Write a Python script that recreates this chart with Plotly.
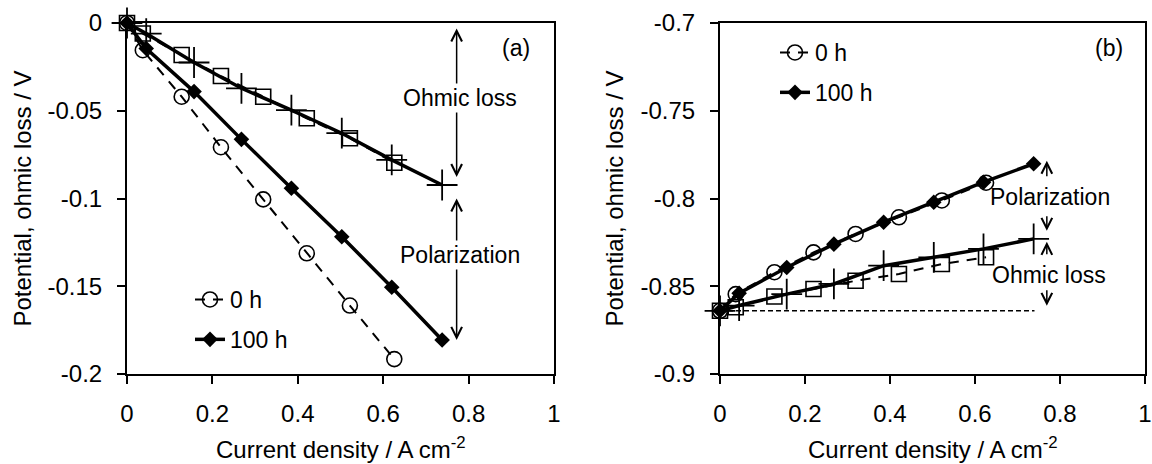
import plotly.graph_objects as go

# ---------------- data ----------------
cur_0h = [0, 0.037, 0.128, 0.220, 0.319, 0.421, 0.522, 0.626]
cur_100h = [0, 0.045, 0.157, 0.268, 0.385, 0.503, 0.620, 0.738]

# panel (a)
pol_0h_a = [0, -0.0155, -0.0420, -0.0708, -0.1005, -0.1312, -0.1610, -0.1915]
ohm_0h_a = [0, -0.0060, -0.0182, -0.0302, -0.0420, -0.0543, -0.0657, -0.0796]
pol_100h_a = [0, -0.0145, -0.0391, -0.0663, -0.0942, -0.1218, -0.1506, -0.1806]
ohm_100h_a = [0, -0.0060, -0.0225, -0.0372, -0.0496, -0.0628, -0.0780, -0.0923]

# panel (b)
pol_0h_b = [-0.864, -0.8545, -0.8420, -0.8307, -0.8202, -0.8107, -0.8011, -0.7910]
ohm_0h_b = [-0.864, -0.8620, -0.8558, -0.8516, -0.8469, -0.8430, -0.8373, -0.8335]
pol_100h_b = [-0.864, -0.8540, -0.8393, -0.8260, -0.8135, -0.8021, -0.7907, -0.7802]
ohm_100h_b = [-0.864, -0.8610, -0.8545, -0.8487, -0.8383, -0.8335, -0.8287, -0.8230]
baseline_x = [0, 0.74]
baseline_y = [-0.864, -0.864]

x_tickvals = [0, 0.2, 0.4, 0.6, 0.8, 1]
x_ticktext = ["0", "0.2", "0.4", "0.6", "0.8", "1"]
ya_tickvals = [0, -0.05, -0.1, -0.15, -0.2]
ya_ticktext = ["0", "-0.05", "-0.1", "-0.15", "-0.2"]
yb_tickvals = [-0.7, -0.75, -0.8, -0.85, -0.9]
yb_ticktext = ["-0.7", "-0.75", "-0.8", "-0.85", "-0.9"]

FONT = "Liberation Sans, Arial, sans-serif"
FS = 23
FS_TICK = 24
BLACK = "black"
DASH = "10px,8px"

fig = go.Figure()


def add_panel(xa, ya, pol0, ohm0, pol100, ohm100, legend):
    fig.add_trace(go.Scatter(
        x=cur_0h, y=ohm0, xaxis=xa, yaxis=ya, mode="lines+markers",
        line=dict(color=BLACK, width=2, dash=DASH),
        marker=dict(symbol="square-open", size=15, color=BLACK, line=dict(width=1.6, color=BLACK)),
        showlegend=False, cliponaxis=False, legendgroup="g0", legend=legend))
    fig.add_trace(go.Scatter(
        x=cur_0h, y=pol0, xaxis=xa, yaxis=ya, mode="lines+markers", name="0 h",
        line=dict(color=BLACK, width=2, dash=DASH),
        marker=dict(symbol="circle-open", size=15, color=BLACK, line=dict(width=1.6, color=BLACK)),
        showlegend=True, cliponaxis=False, legendgroup="g0", legend=legend))
    fig.add_trace(go.Scatter(
        x=cur_100h, y=ohm100, xaxis=xa, yaxis=ya, mode="lines+markers",
        line=dict(color=BLACK, width=3.5),
        marker=dict(symbol="cross-thin", size=22, color=BLACK, line=dict(width=1.8, color=BLACK)),
        showlegend=False, cliponaxis=False, legendgroup="g1", legend=legend))
    fig.add_trace(go.Scatter(
        x=cur_100h, y=pol100, xaxis=xa, yaxis=ya, mode="lines+markers", name="100 h",
        line=dict(color=BLACK, width=3.5),
        marker=dict(symbol="diamond", size=12, color=BLACK),
        showlegend=True, cliponaxis=False, legendgroup="g1", legend=legend))


add_panel("x", "y", pol_0h_a, ohm_0h_a, pol_100h_a, ohm_100h_a, "legend")

fig.add_trace(go.Scatter(
    x=baseline_x, y=baseline_y, xaxis="x2", yaxis="y2", mode="lines",
    line=dict(color=BLACK, width=1.5, dash="5px,3px"), showlegend=False, legend="legend2"))
add_panel("x2", "y2", pol_0h_b, ohm_0h_b, pol_100h_b, ohm_100h_b, "legend2")

axis_common = dict(
    showline=True, linewidth=2, linecolor=BLACK, mirror=True,
    ticks="outside", ticklen=8, tickwidth=2, tickcolor=BLACK,
    showgrid=False, zeroline=False, automargin=False, ticklabeloverflow="allow",
    tickfont=dict(family=FONT, size=FS_TICK, color=BLACK),
)

fig.update_layout(
    width=1152, height=464,
    margin=dict(l=0, r=0, t=0, b=0),
    paper_bgcolor="white", plot_bgcolor="white",
    font=dict(family=FONT, size=FS, color=BLACK),
    xaxis=dict(domain=[127 / 1152, 554 / 1152], range=[0, 1], anchor="y",
               tickvals=x_tickvals, ticktext=x_ticktext, ticklabelstandoff=9, **axis_common),
    yaxis=dict(domain=[1 - 374 / 464, 1 - 23 / 464], range=[-0.2, 0], anchor="x",
               tickvals=ya_tickvals, ticktext=ya_ticktext, ticklabelstandoff=10, **axis_common),
    xaxis2=dict(domain=[720 / 1152, 1145 / 1152], range=[0, 1], anchor="y2",
                tickvals=x_tickvals, ticktext=x_ticktext, ticklabelstandoff=9, **axis_common),
    yaxis2=dict(domain=[1 - 374 / 464, 1 - 23 / 464], range=[-0.9, -0.7], anchor="x2",
                tickvals=yb_tickvals, ticktext=yb_ticktext, ticklabelstandoff=10, **axis_common),
    legend=dict(x=190 / 1152, y=1 - 278 / 464, xanchor="left", yanchor="top",
                bgcolor="rgba(0,0,0,0)", traceorder="grouped", tracegroupgap=7,
                font=dict(family=FONT, size=FS, color=BLACK)),
    legend2=dict(x=775 / 1152, y=1 - 31 / 464, xanchor="left", yanchor="top",
                 bgcolor="rgba(0,0,0,0)", traceorder="grouped", tracegroupgap=7,
                 font=dict(family=FONT, size=FS, color=BLACK)),
)

ann = []
# axis titles
for xr in ("x", "x2"):
    ann.append(dict(text="Current density / A cm<sup>-2</sup>", xref=xr + " domain", x=0.5,
                    yref="paper", y=1 - 448 / 464, showarrow=False, xanchor="center", yanchor="middle",
                    font=dict(size=FS_TICK)))
ann.append(dict(text="Potential, ohmic loss / V", xref="paper", x=22 / 1152, yref="y domain", y=0.5,
                textangle=-90, showarrow=False, xanchor="center", yanchor="middle", font=dict(size=FS_TICK)))
ann.append(dict(text="Potential, ohmic loss / V", xref="paper", x=614 / 1152, yref="y2 domain", y=0.5,
                textangle=-90, showarrow=False, xanchor="center", yanchor="middle", font=dict(size=FS_TICK)))
# panel letters
ann.append(dict(text="(a)", xref="x domain", yref="y domain", x=0.948, y=0.929,
                showarrow=False, xanchor="right", yanchor="middle"))
ann.append(dict(text="(b)", xref="x2 domain", yref="y2 domain", x=0.952, y=0.929,
                showarrow=False, xanchor="right", yanchor="middle"))

arrow_style = dict(arrowcolor=BLACK, arrowwidth=1.5, arrowhead=5, arrowsize=1.4,
                   startarrowhead=5, startarrowsize=1.4, text="")
# panel (a) double arrows
xa_arrow = 0.772
ohm_top_a = ohm_100h_a[0]
ohm_end_a = ohm_100h_a[-1]
pol_end_a = pol_100h_a[-1]
ann.append(dict(x=xa_arrow, y=ohm_end_a, ax=xa_arrow, ay=ohm_top_a, xref="x", yref="y",
                axref="x", ayref="y", showarrow=True, arrowside="end+start",
                standoff=8, startstandoff=4, **arrow_style))
ann.append(dict(x=xa_arrow, y=pol_end_a, ax=xa_arrow, ay=ohm_end_a, xref="x", yref="y",
                axref="x", ayref="y", showarrow=True, arrowside="end+start",
                standoff=0, startstandoff=12, **arrow_style))
ann.append(dict(text="Ohmic loss", x=0.78, y=(ohm_top_a + ohm_end_a) / 2, xref="x", yref="y",
                yshift=6, showarrow=False, bgcolor="white", xanchor="center", yanchor="middle"))
ann.append(dict(text="Polarization", x=0.78, y=(ohm_end_a + pol_end_a) / 2, xref="x", yref="y",
                yshift=7, showarrow=False, bgcolor="white", xanchor="center", yanchor="middle"))

# panel (b) single arrows
xb_arrow = 0.769
pol_end_b = pol_100h_b[-1]
ohm_end_b = ohm_100h_b[-1]
base_b = baseline_y[0]
ann.append(dict(x=xb_arrow, y=pol_end_b, xref="x2", yref="y2", ax=0, ay=17, yshift=3,
                showarrow=True, arrowside="end", standoff=0, **arrow_style))
ann.append(dict(x=xb_arrow, y=ohm_end_b, xref="x2", yref="y2", ax=0, ay=-24,
                showarrow=True, arrowside="end", standoff=8, **arrow_style))
ann.append(dict(text="Polarization", x=0.776, y=(pol_end_b + ohm_end_b) / 2, xref="x2", yref="y2",
                yshift=4, showarrow=False, xanchor="center", yanchor="middle"))
ann.append(dict(x=xb_arrow, y=ohm_end_b, xref="x2", yref="y2", ax=0, ay=17,
                showarrow=True, arrowside="end", standoff=3, **arrow_style))
ann.append(dict(x=xb_arrow, y=base_b, xref="x2", yref="y2", ax=0, ay=-22,
                showarrow=True, arrowside="end", standoff=5, **arrow_style))
ann.append(dict(text="Ohmic loss", x=0.773, y=(ohm_end_b + base_b) / 2, xref="x2", yref="y2",
                showarrow=False, xanchor="center", yanchor="middle"))

fig.update_layout(annotations=ann)
fig.write_html("out.html")
